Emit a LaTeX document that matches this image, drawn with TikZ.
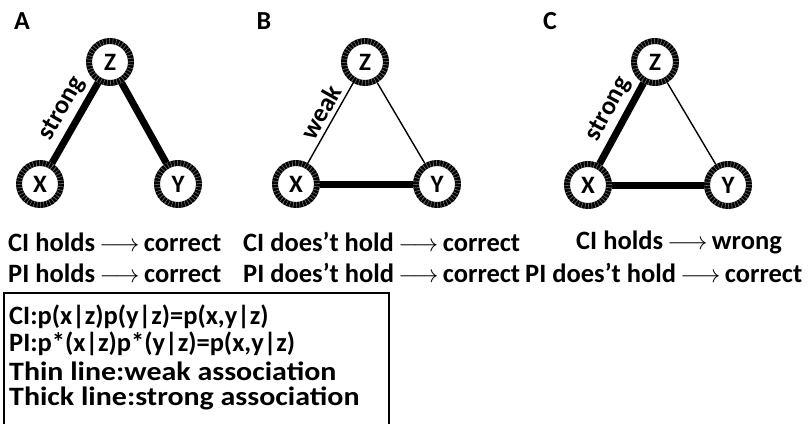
\documentclass[tikz,border=0pt]{standalone}
\usepackage{graphicx}
\usepackage{fontspec}
\setmainfont{Carlito}
\begin{document}
\begin{tikzpicture}[x=1pt,y=1pt,
  var/.style={circle, draw=black, fill=white, line width=6pt, minimum size=42pt, inner sep=0pt,
    font=\fontsize{25}{28}\selectfont\bfseries,
    postaction={draw=white, line width=6pt, dash pattern=on 0.7pt off 2.6pt, opacity=0.4}},
  thickedge/.style={line width=7pt},
  thinedge/.style={line width=1.4pt},
  txt/.style={font=\fontsize{26.5}{30}\selectfont\bfseries, inner sep=0pt, anchor=west},
  legend/.style={font=\fontsize{26.5}{30}\selectfont\bfseries, inner sep=0pt, anchor=west},
  panel/.style={font=\fontsize{26}{30}\selectfont\bfseries, inner sep=0pt},
  elabel/.style={font=\fontsize{26}{29}\selectfont\bfseries, inner sep=0pt, sloped, above=4pt}]
\useasboundingbox (0,0) rectangle (811,-423);

% panel letters
\node[panel] (la) at (22,-21) {A};
\node[panel] (lb) at (264,-21) {B};
\node[panel] (lc) at (550,-21) {C};

% panel A
\node[var] (az) at (110,-62) {Z};
\node[var] (ax) at (40,-184) {X};
\node[var] (ay) at (178,-184) {Y};
\draw[thickedge] (ax) -- node[elabel, pos=0.57] (as) {strong} (az);
\draw[thickedge] (az) -- (ay);

% panel B
\node[var] (bz) at (365,-62) {Z};
\node[var] (bx) at (296,-184) {X};
\node[var] (by) at (437,-184) {Y};
\draw[thinedge] (bx) -- node[elabel, pos=0.55] (bw) {weak} (bz);
\draw[thinedge] (bz) -- (by);
\draw[thickedge] (bx) -- (by);

% panel C
\node[var] (cz) at (655,-62) {Z};
\node[var] (cx) at (588,-185) {X};
\node[var] (cy) at (728,-185) {Y};
\draw[thickedge] (cx) -- node[elabel, pos=0.57] (cs) {strong} (cz);
\draw[thinedge] (cz) -- (cy);
\draw[thickedge] (cx) -- (cy);

% outcomes
\node[txt] (a1) at (8,-242) {CI holds\,$\longrightarrow$\,correct};
\node[txt] (a2) at (8,-273) {PI holds\,$\longrightarrow$\,correct};
\node[txt] (b1) at (243,-242) {CI does't hold\,$\longrightarrow$\,correct};
\node[txt] (b2) at (243,-273) {PI does't hold\,$\longrightarrow$\,correct};
\node[txt] (c1) at (576,-242) {CI holds\,$\longrightarrow$\,wrong};
\node[txt] (c2) at (525,-273) {PI does't hold\,$\longrightarrow$\,correct};

% legend box
\draw[line width=1.2pt] (4,-430) -- (4,-293) -- (389,-293) -- (389,-430);
\node[legend] (l1) at (9,-317) {CI:p(x|z)p(y|z)=p(x,y|z)};
\node[legend] (l2) at (9,-344) {PI:p*(x|z)p*(y|z)=p(x,y|z)};
\node[legend] (l3) at (9,-371) {\scalebox{1.13}[1]{Thin line:weak association}};
\node[legend] (l4) at (9,-398) {\scalebox{1.13}[1]{Thick line:strong association}};
\end{tikzpicture}
\end{document}
